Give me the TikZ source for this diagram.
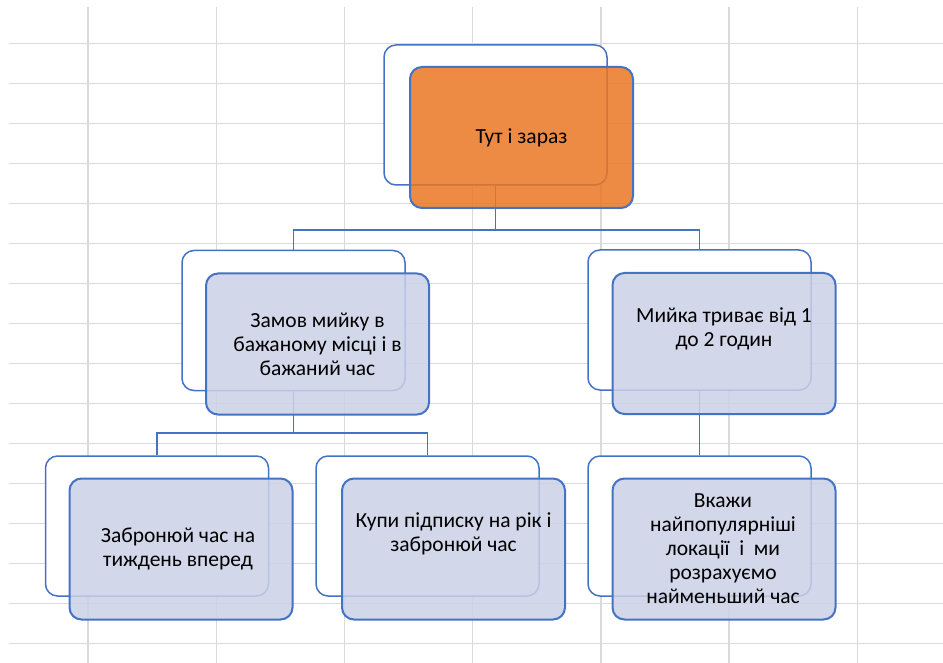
\documentclass[tikz,border=0pt]{standalone}
\usepackage{fontspec}
\setmainfont{Carlito}
\definecolor{gridgrey}{HTML}{DADADA}
\definecolor{accentblue}{HTML}{4472C4}
\definecolor{orangefill}{HTML}{EB7624}
\definecolor{bluefill}{HTML}{CBD1E7}
\begin{document}
\begin{tikzpicture}[x=1pt,y=-1pt,
  gridline/.style={draw=gridgrey, line width=1.4pt},
  backbox/.style={draw=accentblue, line width=1.5pt, fill=white, rounded corners=12pt,
    minimum width=223pt, minimum height=140pt, inner sep=0pt},
  frontbox/.style={draw=accentblue, line width=2pt, fill=#1, fill opacity=0.85,
    rounded corners=12pt, minimum width=223pt, minimum height=141pt, inner sep=0pt},
  frontbox/.default=bluefill,
  txt/.style={font=\fontsize{21.5}{24}\selectfont, align=center, text=black, inner sep=0pt},
  link/.style={draw=accentblue, line width=1.5pt}
]
% page
\fill[white] (0,0) rectangle (943,663);
\useasboundingbox (0,0) rectangle (943,663);

% sheet grid
\foreach \k in {0,...,15} \draw[gridline] (9,43.5+40*\k) -- (943,43.5+40*\k);
\foreach \k in {0,...,6} \draw[gridline] (88+128.2*\k,7) -- (88+128.2*\k,663);

% back cards
\node[backbox] (b1)  at (495.5,115) {};
\node[backbox] (b2l) at (293.5,320.5) {};
\node[backbox] (b2r) at (699.5,320) {};
\node[backbox] (b3l) at (157,526) {};
\node[backbox] (b3m) at (427.5,526) {};
\node[backbox] (b3r) at (699.5,526) {};

% connectors
\coordinate (bus1) at (0,230);
\coordinate (bus2) at (0,433);
\draw[link] (b1.south) -- (b1.south |- bus1);
\draw[link] (b2l.north) |- (b1.south |- bus1) -| (b2r.north);
\draw[link] (b2l.south) -- (b2l.south |- bus2);
\draw[link] (b3l.north) |- (b2l.south |- bus2) -| (b3m.north);
\draw[link] (b2r.south) -- (b3r.north);

% front cards
\node[frontbox=orangefill] (f1) at (521.5,137.5) {};
\node[frontbox] (f2l) at (317.5,344) {};
\node[frontbox] (f2r) at (724,343.5) {};
\node[frontbox] (f3l) at (181,549) {};
\node[frontbox] (f3m) at (453.5,549) {};
\node[frontbox] (f3r) at (724,549) {};

% texts
\node[txt] (t1)  at (f1.center) {Тут і зараз};
\node[txt] (t2l) at (f2l.center) {Замов мийку в\\бажаному місці і в\\бажаний час};
\node[txt] (t2r) at ([yshift=15pt]f2r.center) {Мийка триває від 1\\до 2 годин};
\node[txt] (t3l) at ([xshift=-3pt]f3l.center) {Забронюй час на\\тиждень вперед};
\node[txt] (t3m) at ([yshift=15pt]f3m.center) {Купи підписку на рік і\\забронюй час};
\node[txt] (t3r) at ([xshift=-1pt]f3r.center) {Вкажи\\найпопулярніші\\локації\ \ і\ \ ми\\розрахуємо\\найменьший час};
\end{tikzpicture}
\end{document}
